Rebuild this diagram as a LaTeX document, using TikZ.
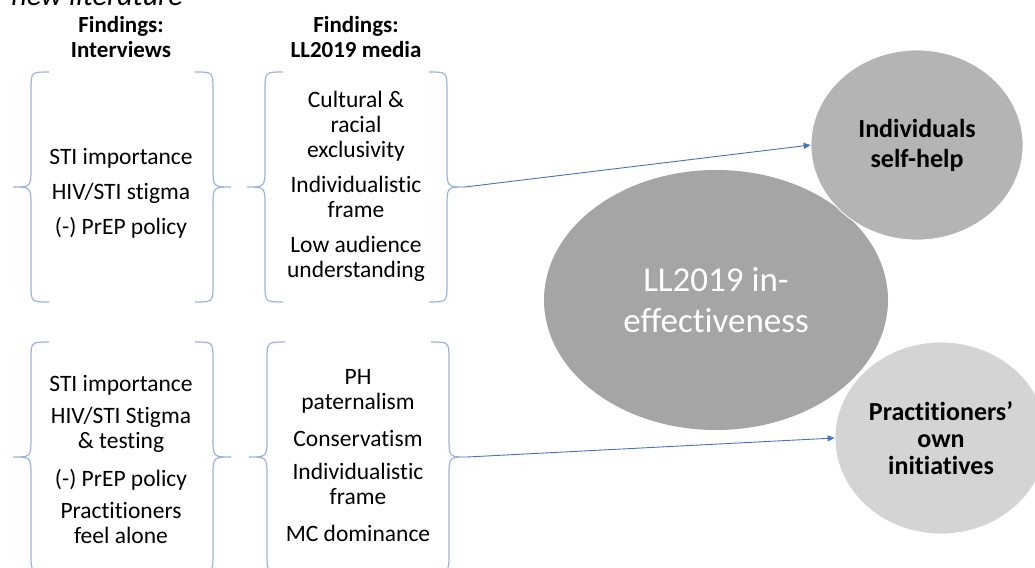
\documentclass[tikz,border=0pt]{standalone}
\usepackage{fontspec}
\setmainfont{Carlito}[Ligatures=CommonOff]
\usetikzlibrary{shapes.geometric,arrows.meta}
\definecolor{brc}{HTML}{9AB3E3}
\definecolor{arc}{HTML}{4472C4}
\definecolor{bigc}{HTML}{A5A5A5}
\definecolor{indc}{HTML}{B4B4B4}
\definecolor{prc}{HTML}{D4D4D4}
\begin{document}
\begin{tikzpicture}[x=1pt,y=-1pt,
  item/.style={align=center,font=\fontsize{23.5}{25}\selectfont,inner sep=0pt,
    execute at begin node=\strut, execute at end node=\strut},
  head/.style={item,font=\bfseries\fontsize{23}{25}\selectfont},
  brline/.style={draw=brc,line width=1.2pt},
  bpair/.pic={
    \draw[brline] (18,0) .. controls (0,0) .. (0,18) -- (0,95)
      .. controls (0,115) .. (-18,115) .. controls (0,115) .. (0,135)
      -- (0,212) .. controls (0,230) .. (18,230);
    \draw[brline] (164,0) .. controls (182,0) .. (182,18) -- (182,95)
      .. controls (182,115) .. (200,115) .. controls (182,115) .. (182,135)
      -- (182,212) .. controls (182,230) .. (164,230);
    \coordinate (-rt) at (200,115);
  },
  blob/.style={ellipse,inner sep=0pt,draw=white,line width=0.8pt},
  conn/.style={draw=arc,line width=0.9pt,-{Triangle[length=7pt,width=6pt]}}
]
\useasboundingbox (0,0) rectangle (1035,567);
\begin{scope}
\clip (0,0) rectangle (1035,567);
\node[anchor=base east,font=\itshape\fontsize{30}{36}\selectfont,inner sep=0pt] (lit) at (183,6) {new literature};
\end{scope}

% headers
\node[head] (h1) at (121,41) {Findings:\\Interviews};
\node[head] (h2) at (356,41) {Findings:\\LL2019 media};

% braces
\pic (ul) at (31,72) {bpair};
\pic (um) at (265,72) {bpair};
\pic (ll) at (31,342) {bpair};
\pic (lm) at (267,342) {bpair};

% upper left texts
\node[item] (a1) at (121,159) {STI importance};
\node[item] (a2) at (121,194) {HIV/STI stigma};
\node[item] (a3) at (121,229) {(-) PrEP policy};

% upper middle texts
\node[item] (b1) at (356,128) {Cultural \&\\racial\\exclusivity};
\node[item] (b2) at (356,201) {Individualistic\\frame};
\node[item] (b3) at (356,261) {Low audience\\understanding};

% lower left texts
\node[item] (c1) at (121,386) {STI importance};
\node[item] (c2) at (121,432) {HIV/STI Stigma\\\& testing};
\node[item] (c3) at (121,481) {(-) PrEP policy};
\node[item] (c4) at (121,527) {Practitioners\\feel alone};

% lower middle texts
\node[item] (d1) at (358,393) {PH\\paternalism};
\node[item] (d2) at (358,441) {Conservatism};
\node[item] (d3) at (358,488) {Individualistic\\frame};
\node[item] (d4) at (358,536) {MC dominance};

% ellipses
\node[ellipse,inner sep=0pt,fill=bigc,minimum width=344pt,minimum height=260pt,
  align=center,text=white,font=\fontsize{35}{41}\selectfont] (big) at (716,300)
  {LL2019 in-\\effectiveness};
\node[blob,fill=indc,minimum width=212pt,minimum height=190pt,align=center,
  font=\bfseries\fontsize{26}{30}\selectfont] (ind) at (917,145) {Individuals\\self-help};
\node[blob,fill=prc,minimum width=212pt,minimum height=192pt,align=center,
  font=\bfseries\fontsize{26}{27}\selectfont] (pr) at (941,438) {Practitioners’\\own\\initiatives};

% connectors
\draw[conn] (um-rt) -- (ind.west);
\draw[conn] (lm-rt) -- (pr.west);
\end{tikzpicture}
\end{document}
